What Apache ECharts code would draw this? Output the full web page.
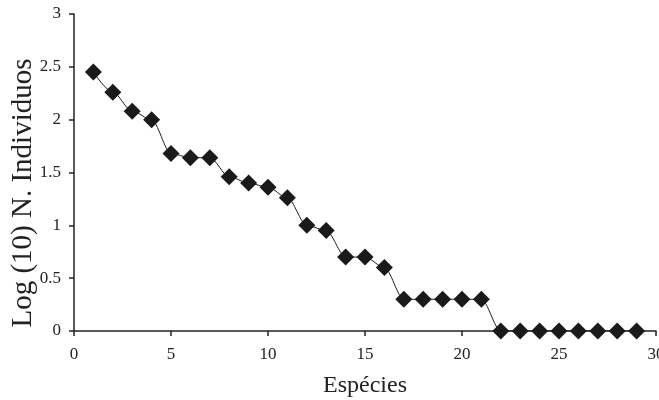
<!DOCTYPE html>
<html><head><meta charset="utf-8">
<script src="https://cdn.jsdelivr.net/npm/echarts@6/dist/echarts.min.js"></script>
<style>html,body{margin:0;padding:0;background:#fff}#c{width:659px;height:400px}</style>
</head><body><div id="c"></div>
<script>
var species = [1,2,3,4,5,6,7,8,9,10,11,12,13,14,15,16,17,18,19,20,21,22,23,24,25,26,27,28,29];
var logN = [2.45,2.26,2.08,2.0,1.68,1.64,1.64,1.46,1.4,1.36,1.26,1.0,0.95,0.7,0.7,0.6,0.3,0.3,0.3,0.3,0.3,0,0,0,0,0,0,0,0];
var xTitle = 'Espécies';
var yTitle = 'Log (10) N. Individuos';
var font = 'Liberation Serif, Times New Roman, serif';
var chart = echarts.init(document.getElementById('c'), null, {renderer:'canvas'});
chart.setOption({
  animation:false,
  grid:{left:74,right:3,top:14,bottom:69,containLabel:false,outerBoundsMode:'none'},
  graphic:[{type:'text',x:23,y:193,rotation:Math.PI/2,
    style:{text:yTitle,fontFamily:font,fontSize:29,fill:'#222',align:'center',verticalAlign:'middle'}}],
  xAxis:{type:'value',min:0,max:30,interval:5,
    name:xTitle,nameLocation:'middle',nameGap:43,
    nameTextStyle:{fontFamily:font,fontSize:24,color:'#222'},
    axisLine:{lineStyle:{color:'#222',width:1.5}},
    axisTick:{show:true,length:5,lineStyle:{color:'#222',width:1.5}},
    axisLabel:{fontFamily:font,fontSize:17,color:'#222',margin:15},
    splitLine:{show:false}},
  yAxis:{type:'value',min:0,max:3,interval:0.5,
    axisLine:{show:true,lineStyle:{color:'#222',width:1.5}},
    axisTick:{show:true,length:5,lineStyle:{color:'#222',width:1.5}},
    axisLabel:{fontFamily:font,fontSize:17,color:'#222',margin:13},
    splitLine:{show:false}},
  series:[{type:'line',data:species.map(function(s,i){return [s,logN[i]];}),
    smooth:0.3,smoothMonotone:'x',
    symbol:'diamond',symbolSize:17,
    itemStyle:{color:'#1a1a1a'},
    lineStyle:{color:'#1a1a1a',width:1}}]
});
</script></body></html>
